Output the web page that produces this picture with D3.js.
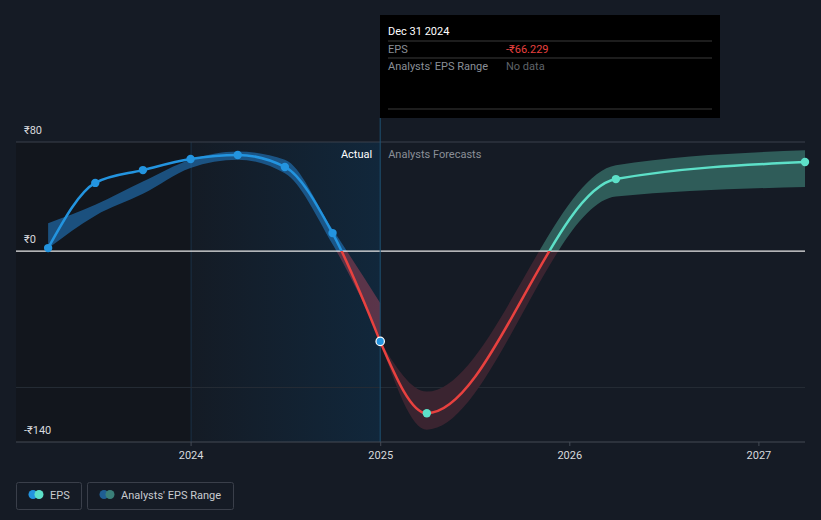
<!DOCTYPE html>
<html>
<head>
<meta charset="utf-8">
<script src="https://cdn.jsdelivr.net/npm/d3@7"></script>
<style>
  body { margin: 0; background: #151b25; }
  svg { display: block; font-family: Roboto, "Noto Sans", sans-serif; }
</style>
</head>
<body>
<svg id="chart" width="821" height="520"></svg>
<script>
// --- data ---
const actualDates = ["2023-03-31", "2023-06-30", "2023-09-30", "2023-12-31", "2024-03-31", "2024-06-30", "2024-09-30", "2024-12-31"];
const actualEps = [2.2, 50, 59.4, 67.5, 70.5, 61.7, 13.2, -66.229];
const pastRangeLow = [2, 26, 42, 61, 67, 57, 5, -63];
const pastRangeHigh = [20.5, 34, 51, 67, 73, 67, 16, -38];

const forecastDates = ["2024-12-31", "2025-03-31", "2026-03-31", "2027-03-31"];
const forecastEps = [-66.229, -118.9, 52.8, 65.3];
const forecastLow = [-66.229, -131, 40, 47];
const forecastHigh = [-66.229, -103, 63, 74];

const yTicks = [80, 0, -140];
const yGrid = [80, -100];
const xTicks = ["2024-01-01", "2025-01-01", "2026-01-01", "2027-01-01"];

const parse = d3.timeParse("%Y-%m-%d");
const W = 821, H = 520;
const plotLeft = 16, plotRight = 805, plotTop = 142, plotBottom = 442;

const svg = d3.select("#chart");
const x = d3.scaleTime()
    .domain([parse("2023-01-28"), parse("2027-03-31")])
    .range([plotLeft, plotRight]);
const y = d3.scaleLinear().domain([-140, 80]).range([plotBottom, plotTop]);

const actual = actualDates.map((d, i) => ({ date: parse(d), v: actualEps[i], lo: pastRangeLow[i], hi: pastRangeHigh[i] }));
const forecast = forecastDates.map((d, i) => ({ date: parse(d), v: forecastEps[i], lo: forecastLow[i], hi: forecastHigh[i] }));

const splitX = x(parse("2024-12-31"));
const yearX = x(parse("2024-01-01"));

// background panels
const defs = svg.append("defs");
const grad = defs.append("linearGradient").attr("id", "pastGrad");
grad.append("stop").attr("offset", "0%").attr("stop-color", "#141b25");
grad.append("stop").attr("offset", "100%").attr("stop-color", "#11273b");

svg.append("rect").attr("x", plotLeft).attr("y", plotTop).attr("width", yearX - plotLeft).attr("height", plotBottom - plotTop).attr("fill", "#12161d");
svg.append("rect").attr("x", yearX).attr("y", plotTop).attr("width", splitX - yearX).attr("height", plotBottom - plotTop).attr("fill", "url(#pastGrad)");
svg.append("line").attr("x1", yearX).attr("x2", yearX).attr("y1", plotTop).attr("y2", plotBottom).attr("stroke", "#1a3146").attr("stroke-width", 1);

// clip paths for sign colouring
defs.append("clipPath").attr("id", "above").append("rect")
    .attr("x", 0).attr("y", 0).attr("width", W).attr("height", y(0));
defs.append("clipPath").attr("id", "below").append("rect")
    .attr("x", 0).attr("y", y(0)).attr("width", W).attr("height", H - y(0));

// gridlines
yGrid.forEach(v => {
  svg.append("line").attr("x1", plotLeft).attr("x2", plotRight).attr("y1", y(v)).attr("y2", y(v))
    .attr("stroke", v === 80 ? "#3b414c" : "#262c36").attr("stroke-width", 1);
});

const area = d3.area().x(d => x(d.date)).y0(d => y(d.lo)).y1(d => y(d.hi)).curve(d3.curveMonotoneX);
const line = d3.line().x(d => x(d.date)).y(d => y(d.v)).curve(d3.curveMonotoneX);

// bands
svg.append("path").datum(actual).attr("d", area).attr("clip-path", "url(#above)").attr("fill", "#2278c0").attr("fill-opacity", 0.6);
svg.append("path").datum(actual).attr("d", area).attr("clip-path", "url(#below)").attr("fill", "#b4465e").attr("fill-opacity", 0.45);
svg.append("path").datum(forecast).attr("d", area).attr("clip-path", "url(#above)").attr("fill", "#2f5c59");
svg.append("path").datum(forecast).attr("d", area).attr("clip-path", "url(#below)").attr("fill", "#3a2430");

// zero line
svg.append("line").attr("x1", plotLeft).attr("x2", plotRight).attr("y1", y(0)).attr("y2", y(0))
  .attr("stroke", "#e8e8e8").attr("stroke-width", 1.3);

// lines
svg.append("path").datum(actual).attr("d", line).attr("clip-path", "url(#above)")
  .attr("fill", "none").attr("stroke", "#2394df").attr("stroke-width", 2.5);
svg.append("path").datum(actual).attr("d", line).attr("clip-path", "url(#below)")
  .attr("fill", "none").attr("stroke", "#e8413f").attr("stroke-width", 2.5);
svg.append("path").datum(forecast).attr("d", line).attr("clip-path", "url(#above)")
  .attr("fill", "none").attr("stroke", "#5de0c8").attr("stroke-width", 2.5);
svg.append("path").datum(forecast).attr("d", line).attr("clip-path", "url(#below)")
  .attr("fill", "none").attr("stroke", "#e8413f").attr("stroke-width", 2.5);

// split line
svg.append("line").attr("x1", splitX).attr("x2", splitX).attr("y1", 118).attr("y2", plotBottom)
  .attr("stroke", "#1e5273").attr("stroke-width", 1);

// dots
svg.selectAll(".adot").data(actual.slice(0, -1)).join("circle")
  .attr("cx", d => x(d.date)).attr("cy", d => y(d.v)).attr("r", 4.2).attr("fill", "#2394df");
svg.selectAll(".fdot").data(forecast.slice(1)).join("circle")
  .attr("cx", d => x(d.date)).attr("cy", d => y(d.v)).attr("r", 4.2).attr("fill", "#5de0c8");
const last = actual[actual.length - 1];
svg.append("circle").attr("cx", x(last.date)).attr("cy", y(last.v)).attr("r", 4.2)
  .attr("fill", "#2394df").attr("stroke", "#ffffff").attr("stroke-width", 1.2);

// x axis
svg.append("line").attr("x1", plotLeft).attr("x2", plotRight).attr("y1", plotBottom).attr("y2", plotBottom)
  .attr("stroke", "#444a55").attr("stroke-width", 1);
xTicks.forEach(t => {
  const px = x(parse(t));
  svg.append("line").attr("x1", px).attr("x2", px).attr("y1", plotBottom).attr("y2", plotBottom + 4).attr("stroke", "#444a55");
  svg.append("text").attr("x", px).attr("y", 459).attr("text-anchor", "middle")
    .attr("fill", "#d8dadd").attr("font-size", 11).text(t.slice(0, 4));
});

// y labels
const fmtY = v => (v < 0 ? "-" : "") + "₹" + Math.abs(v);
yTicks.forEach(v => {
  svg.append("text").attr("x", 24).attr("y", y(v) - 8).attr("fill", "#d8dadd").attr("font-size", 11).text(fmtY(v));
});

// period labels
svg.append("text").attr("x", splitX - 8).attr("y", 158).attr("text-anchor", "end")
  .attr("fill", "#ffffff").attr("font-size", 11).text("Actual");
svg.append("text").attr("x", splitX + 8).attr("y", 158)
  .attr("fill", "#8a8f97").attr("font-size", 11).text("Analysts Forecasts");

// tooltip
const tip = svg.append("g");
tip.append("rect").attr("x", 380).attr("y", 15).attr("width", 340).attr("height", 103).attr("fill", "#000000");
tip.append("text").attr("x", 388).attr("y", 35).attr("fill", "#ffffff").attr("font-size", 11).text("Dec 31 2024");
[41, 58, 109].forEach(yy => tip.append("line").attr("x1", 388).attr("x2", 712).attr("y1", yy).attr("y2", yy).attr("stroke", "#3a3a3a"));
tip.append("text").attr("x", 388).attr("y", 53).attr("fill", "#8a8f97").attr("font-size", 11).text("EPS");
tip.append("text").attr("x", 506).attr("y", 53).attr("fill", "#e8413f").attr("font-size", 11).text("-₹66.229");
tip.append("text").attr("x", 388).attr("y", 70).attr("fill", "#8a8f97").attr("font-size", 11).text("Analysts' EPS Range");
tip.append("text").attr("x", 506).attr("y", 70).attr("fill", "#5f6369").attr("font-size", 11).text("No data");

// legend
const legend = [
  { label: "EPS", x: 16, w: 65, c1: "#2394df", c2: "#5de0c8" },
  { label: "Analysts' EPS Range", x: 87, w: 146, c1: "#1f5e93", c2: "#3a7f78" }
];
legend.forEach(l => {
  const g = svg.append("g");
  g.append("rect").attr("x", l.x + 0.5).attr("y", 482.5).attr("width", l.w).attr("height", 27).attr("rx", 2)
    .attr("fill", "none").attr("stroke", "#3a3f4a");
  g.append("circle").attr("cx", l.x + 17).attr("cy", 494.5).attr("r", 4.5).attr("fill", l.c1);
  g.append("circle").attr("cx", l.x + 23).attr("cy", 494.5).attr("r", 4.5).attr("fill", l.c2);
  g.append("text").attr("x", l.x + 34).attr("y", 498.5).attr("fill", "#c8cbd0").attr("font-size", 11).text(l.label);
});
</script>
</body>
</html>
